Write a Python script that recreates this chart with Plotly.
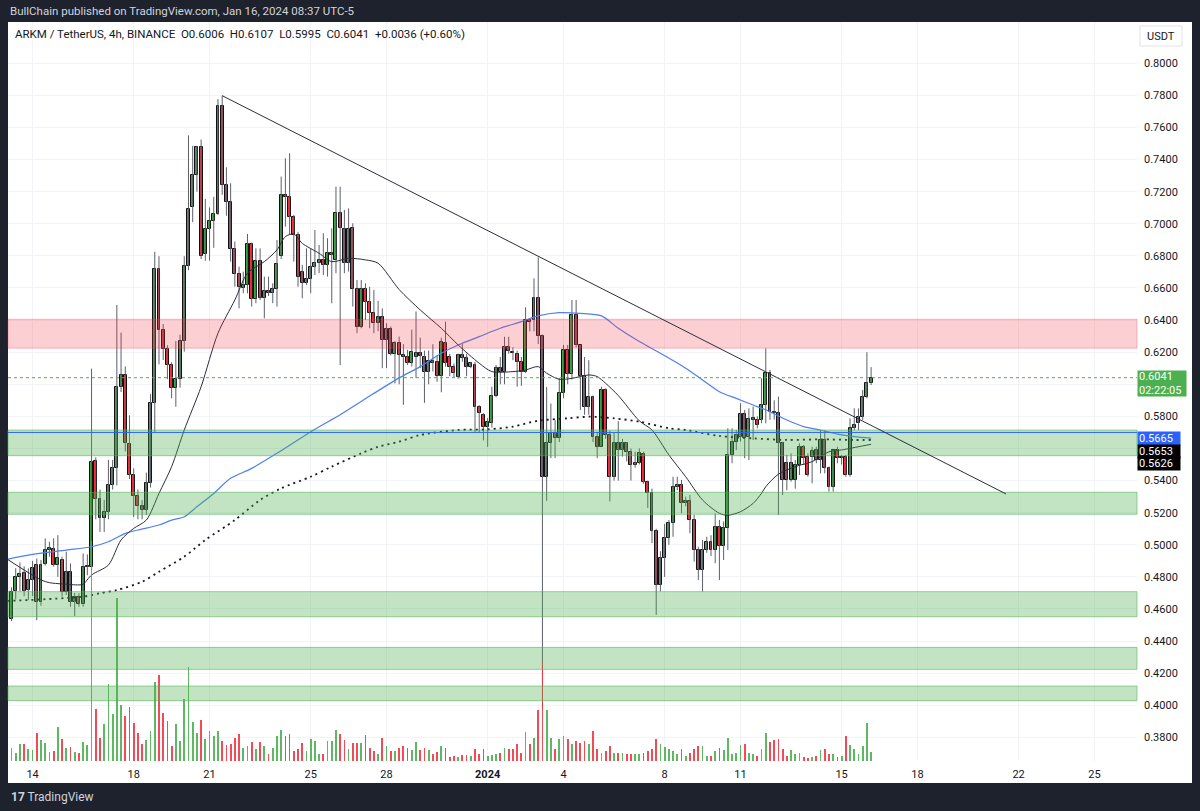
import pandas as pd
import plotly.graph_objects as go

# ---------------- data (ARKM/USDT 4h, Binance, local time UTC-5) ----------------
start = pd.Timestamp("2023-12-13 07:00")
step = pd.Timedelta(hours=4)

opens = [.4535,.4710,.4801,.4822,.4718,.4780,.4872,.4646,.4880,.4970,
         .4974,.4874,.4905,.4708,.4832,.4646,.4677,.4631,.4860,.4864,
         .5524,.5283,.5167,.5204,.5370,.5476,.5984,.6058,.5630,.5434,
         .5305,.5244,.5217,.5384,.5881,.6719,.6341,.6222,.6119,.5979,
         .6032,.6269,.6737,.7102,.7306,.7480,.6811,.6970,.7015,.7062,
         .7736,.7242,.7134,.6841,.6687,.6598,.6619,.6874,.6532,.6768,
         .6536,.6584,.6567,.6594,.6800,.7180,.7169,.7044,.6930,.6700,
         .6629,.6656,.6733,.6758,.6775,.6744,.6806,.6775,.7065,.6966,
         .6754,.6972,.6592,.6359,.6592,.6515,.6442,.6381,.6417,.6276,
         .6345,.6189,.6255,.6183,.6172,.6131,.6172,.6193,.6172,.6079,
         .6147,.6141,.6050,.6260,.6172,.6110,.6048,.6183,.6162,.6110,
         .6120,.5861,.5809,.5736,.5757,.5929,.6100,.6079,.6235,.6203,
         .6189,.6137,.6079,.6400,.6400,.6536,.6301,.5425,.5636,.5699,
         .5665,.5946,.6214,.6064,.6431,.6245,.6052,.5861,.5923,.5674,
         .5612,.5965,.5684,.5425,.5632,.5591,.5632,.5580,.5497,.5508,
         .5566,.5394,.5322,.5083,.4750,.4916,.5040,.5137,.5362,.5373,
         .5259,.5270,.5155,.4968,.4843,.4968,.5020,.4968,.5113,.4990,
         .5102,.5559,.5642,.5674,.5815,.5674,.5778,.5778,.5778,.5871,
         .6068,.5829,.5819,.5632,.5508,.5404,.5404,.5497,.5611,.5549,
         .5549,.5591,.5528,.5653,.5476,.5362,.5591,.5539,.5549,.5435,
         .5726,.5757,.5794,.5923,.6006]

highs = [.4735,.4854,.4890,.4866,.4853,.4900,.4915,.4905,.5040,.5019,
         .5040,.5060,.4926,.4957,.4884,.4700,.4698,.4946,.4940,.6097,
         .5545,.5344,.5280,.5529,.5529,.6494,.6322,.6111,.5807,.5476,
         .5344,.5278,.5450,.5939,.6825,.6798,.6375,.6243,.6137,.6269,
         .6309,.6798,.7551,.7485,.7485,.7525,.7155,.7102,.7168,.7776,
         .7798,.7352,.7252,.6889,.6733,.6702,.6937,.6883,.6847,.6847,
         .6671,.6671,.6629,.6899,.7294,.7408,.7439,.7055,.6950,.6744,
         .6847,.6847,.6961,.6868,.6941,.6910,.6972,.7231,.7231,.7086,
         .7096,.7003,.6650,.6650,.6629,.6608,.6588,.6519,.6473,.6380,
         .6360,.6270,.6297,.6250,.6215,.6340,.6454,.6290,.6210,.6210,
         .6250,.6180,.6290,.6390,.6190,.6130,.6190,.6250,.6190,.6140,
         .6140,.5870,.5820,.5790,.5985,.6120,.6170,.6296,.6296,.6230,
         .6210,.6170,.6480,.6410,.6660,.6791,.6310,.5984,.5880,.5777,
         .6040,.6245,.6245,.6525,.6525,.6245,.6170,.6150,.5930,.5700,
         .5985,.5975,.5710,.5700,.5770,.5660,.5640,.5600,.5580,.5600,
         .5580,.5400,.5350,.5100,.4960,.5130,.5155,.5424,.5424,.5404,
         .5300,.5310,.5186,.4988,.5030,.5050,.5060,.5196,.5155,.5145,
         .5726,.5726,.5715,.5882,.5840,.5850,.5861,.5800,.6037,.6224,
         .6089,.5900,.5923,.5642,.5560,.5570,.5528,.5632,.5622,.5570,
         .5611,.5611,.5715,.5715,.5487,.5591,.5611,.5560,.5560,.5788,
         .5850,.5850,.5965,.6200,.6107]

lows = [.4525,.4660,.4710,.4680,.4656,.4680,.4531,.4620,.4870,.4926,
        .4864,.4800,.4677,.4687,.4614,.4556,.4614,.4614,.4810,.4840,
        .5159,.5080,.5080,.5159,.5344,.5370,.5952,.5582,.5410,.5172,
        .5159,.5159,.5185,.5357,.5701,.6124,.6151,.6032,.5913,.5860,
        .5979,.6203,.6711,.7010,.7200,.6780,.6770,.6770,.6850,.7055,
        .7180,.7050,.6764,.6608,.6473,.6567,.6567,.6484,.6505,.6525,
        .6411,.6550,.6505,.6484,.6780,.6982,.6930,.6764,.6608,.6536,
        .6619,.6567,.6681,.6692,.6681,.6671,.6505,.6692,.6120,.6692,
        .6702,.6484,.6318,.6349,.6401,.6349,.6318,.6331,.6100,.6100,
        .6180,.6005,.6000,.5872,.6120,.6110,.6040,.6100,.5884,.6000,
        .6080,.6016,.5950,.6110,.6050,.6040,.6035,.6140,.6050,.6100,
        .5700,.5700,.5650,.5610,.5730,.5920,.6000,.6000,.6190,.6150,
        .5985,.5990,.6070,.6330,.6330,.6250,.3980,.5274,.5540,.5540,
        .5640,.5913,.6000,.6030,.6230,.5840,.5810,.5810,.5640,.5540,
        .5612,.5660,.5270,.5400,.5400,.5550,.5520,.5400,.5480,.5500,
        .5380,.5230,.5010,.4563,.4710,.4800,.5000,.5050,.5340,.5196,
        .5240,.5072,.4895,.4780,.4708,.4950,.4930,.4885,.4780,.4905,
        .4968,.5508,.5590,.5643,.5539,.5528,.5653,.5725,.5757,.5757,
        .5778,.5780,.5186,.5310,.5340,.5393,.5350,.5435,.5497,.5424,
        .5383,.5508,.5445,.5445,.5331,.5331,.5508,.5500,.5424,.5424,
        .5715,.5715,.5778,.5913,.5995]

closes = [.4705,.4801,.4820,.4714,.4780,.4853,.4646,.4874,.4967,.4978,
          .4874,.4916,.4708,.4832,.4646,.4677,.4631,.4860,.4868,.5518,
          .5283,.5167,.5204,.5370,.5476,.5984,.6058,.5635,.5434,.5305,
          .5244,.5217,.5384,.5881,.6719,.6341,.6222,.6119,.5979,.6032,
          .6269,.6737,.7089,.7306,.7480,.6800,.6970,.7015,.7062,.7736,
          .7242,.7138,.6841,.6687,.6608,.6619,.6874,.6532,.6768,.6536,
          .6584,.6567,.6594,.6750,.7180,.7165,.7044,.6930,.6671,.6629,
          .6656,.6733,.6758,.6775,.6744,.6820,.6820,.7065,.6972,.6754,
          .6966,.6592,.6359,.6592,.6515,.6442,.6381,.6418,.6276,.6345,
          .6189,.6255,.6183,.6172,.6131,.6203,.6193,.6175,.6079,.6147,
          .6130,.6050,.6266,.6131,.6110,.6069,.6183,.6162,.6110,.6131,
          .5861,.5819,.5736,.5767,.5929,.6100,.6079,.6235,.6210,.6193,
          .6137,.6079,.6400,.6386,.6536,.6301,.5425,.5636,.5699,.5665,
          .5946,.6214,.6064,.6431,.6245,.6052,.5861,.5923,.5674,.5612,
          .5965,.5684,.5425,.5632,.5591,.5632,.5580,.5497,.5508,.5570,
          .5394,.5322,.5083,.4750,.4916,.5040,.5137,.5362,.5373,.5259,
          .5270,.5155,.4968,.4843,.4968,.5020,.4968,.5113,.4990,.5102,
          .5559,.5642,.5684,.5815,.5663,.5784,.5788,.5746,.5871,.6068,
          .5829,.5819,.5632,.5404,.5404,.5508,.5497,.5611,.5539,.5435,
          .5587,.5528,.5653,.5476,.5362,.5591,.5539,.5549,.5435,.5726,
          .5746,.5794,.5923,.6006,.6041]

volumes = [130,80,170,170,120,110,280,210,180,90,
           100,340,220,130,140,90,80,190,160,2200,
           520,230,370,770,470,1630,560,450,540,380,
           280,170,210,300,790,860,480,400,150,370,
           200,620,940,390,280,410,220,300,250,300,
           200,160,170,230,270,130,150,190,120,190,
           150,70,130,250,310,250,270,100,120,180,
           100,220,200,70,70,200,200,310,270,210,
           120,180,180,180,260,130,100,70,230,150,
           100,100,130,150,130,110,190,110,130,110,
           70,90,150,130,40,50,40,60,60,50,
           120,70,120,50,60,70,80,130,120,120,
           170,80,290,170,230,510,1000,510,230,120,
           220,250,220,170,200,180,200,170,300,120,
           80,100,150,80,80,80,70,70,70,70,
           80,100,120,220,170,140,120,100,70,120,
           50,80,120,150,150,50,50,100,130,110,
           230,70,80,160,170,80,70,50,120,280,
           190,210,220,120,50,110,70,80,40,30,
           40,50,110,120,70,70,40,50,250,160,
           120,70,150,380,90]

# moving averages (bar index, value)
ma_fast_bar = [-1,7,9,12,16,17,19,23,26,29,32,35,38,41,45,49,53,56,60,63,65,67,69,73,76,80,84,87,
               92,97,102,106,111,114,119,122,125,127,130,133,137,139,141,144,149,152,156,160,164,
               168,170,173,176,178,179,182,186,190,194,197,202,204]
ma_fast_val = [.4910,.4781,.4764,.4756,.4750,.4754,.4812,.4874,.5030,.5102,.5154,.5320,.5487,.5715,
               .5985,.6318,.6525,.6692,.6764,.6837,.6920,.6936,.6878,.6816,.6764,.6785,.6775,.6754,
               .6590,.6463,.6349,.6245,.6131,.6079,.6079,.6089,.6110,.6069,.6031,.6037,.6058,.6048,
               .6006,.5930,.5772,.5715,.5560,.5424,.5279,.5196,.5184,.5206,.5258,.5321,.5362,.5440,
               .5487,.5518,.5580,.5591,.5616,.5626]

ma_mid_bar = [-1,5,13,19,23,27,30,35,38,41,44,48,52,57,63,72,78,84,92,97,102,106,111,116,121,125,
              130,135,140,144,149,154,160,164,168,172,176,180,184,188,192,196,200,204]
ma_mid_val = [.4910,.4940,.4967,.4988,.5019,.5071,.5092,.5123,.5154,.5175,.5237,.5320,.5414,.5476,
              .5570,.5720,.5810,.5910,.6040,.6110,.6193,.6245,.6297,.6349,.6390,.6426,.6446,.6442,
              .6426,.6349,.6266,.6193,.6100,.6027,.5954,.5912,.5871,.5829,.5777,.5736,.5715,.5690,
              .5674,.5665]

ma_slow_bar = [-1,17,21,25,31,35,41,46,53,59,64,71,76,83,87,92,97,106,113,119,125,132,137,143,149,
               156,160,168,176,184,192,200,204]
ma_slow_val = [.4650,.4677,.4698,.4718,.4770,.4832,.4926,.5030,.5154,.5279,.5352,.5424,.5487,.5570,
               .5611,.5642,.5684,.5715,.5719,.5736,.5773,.5788,.5798,.5788,.5767,.5726,.5715,.5678,
               .5663,.5653,.5657,.5653,.5653]

# zones and drawings (prices)
resistance_zone = (0.6225, 0.6405)
support_zones = [(0.5555, 0.5715), (0.5190, 0.5327), (0.4552, 0.4708), (0.4224, 0.4361), (0.4029, 0.4120)]
blue_hline = 0.5700
trend_start = (50, 0.7798)   # (bar index, price)
trend_end = (236, 0.5317)
last_price = 0.6041

tick_labels = ["14", "18", "21", "25", "28", "<b>2024</b>", "4", "8", "11", "15", "18", "22", "25"]
tick_dates = ["2023-12-14 03:00", "2023-12-18 03:00", "2023-12-21 03:00", "2023-12-25 03:00",
              "2023-12-28 03:00", "2024-01-01 03:00", "2024-01-04 03:00", "2024-01-08 03:00",
              "2024-01-11 03:00", "2024-01-15 03:00", "2024-01-18 03:00", "2024-01-22 03:00",
              "2024-01-25 03:00"]
price_ticks = [0.38, 0.40, 0.42, 0.44, 0.46, 0.48, 0.50, 0.52, 0.54, 0.56, 0.58, 0.60,
               0.62, 0.64, 0.66, 0.68, 0.70, 0.72, 0.74, 0.76, 0.78, 0.80]
hidden_ticks = [0.56, 0.60]

# ---------------- figure ----------------
n = len(opens)
times = [start + i * step for i in range(n)]
def bar_time(b):
    return start + b * step

UP = "#43a047"
DN = "#ef2f3c"
FONT = "Roboto, Liberation Sans, sans-serif"

fig = go.Figure()

# volume
vol_colors = ["rgba(76,175,80,0.9)" if c >= o else "rgba(242,54,69,0.9)" for o, c in zip(opens, closes)]
fig.add_trace(go.Bar(x=times, y=volumes, yaxis="y2", marker=dict(color=vol_colors, line=dict(width=0)),
                     width=step.total_seconds() * 1000 * 0.42, hoverinfo="skip"))

# wicks
wx, wy = [], []
for t, h, l in zip(times, highs, lows):
    wx += [t, t, None]
    wy += [l, h, None]
fig.add_trace(go.Scatter(x=wx, y=wy, mode="lines", line=dict(color="#5d606b", width=1), hoverinfo="skip"))

# moving averages
fig.add_trace(go.Scatter(x=[bar_time(b) for b in ma_slow_bar], y=ma_slow_val, mode="lines",
                         line=dict(color="#131722", width=1.8, dash="2px,4px", shape="spline", smoothing=0.8),
                         hoverinfo="skip"))
fig.add_trace(go.Scatter(x=[bar_time(b) for b in ma_mid_bar], y=ma_mid_val, mode="lines",
                         line=dict(color="#4f7ff0", width=1.2, shape="spline", smoothing=0.8),
                         hoverinfo="skip"))
fig.add_trace(go.Scatter(x=[bar_time(b) for b in ma_fast_bar], y=ma_fast_val, mode="lines",
                         line=dict(color="#2a2e39", width=1, shape="spline", smoothing=0.8),
                         hoverinfo="skip"))

# candle bodies
body_base = [min(o, c) for o, c in zip(opens, closes)]
body_h = [max(abs(c - o), 0.0006) for o, c in zip(opens, closes)]
body_col = [UP if c >= o else DN for o, c in zip(opens, closes)]
fig.add_trace(go.Bar(x=times, y=body_h, base=body_base,
                     marker=dict(color=body_col, line=dict(color="#111111", width=1)),
                     width=step.total_seconds() * 1000 * 0.7, hoverinfo="skip"))

# ---------------- geometry helpers (paper coords) ----------------
L, R, T, B = 8, 63, 22, 50
PW, PH = 1200 - L - R, 811 - T - B
def px(x):
    return (x - L) / PW
def py(y):
    return (811 - B - y) / PH

shapes = []
# white chart frame
shapes.append(dict(type="rect", xref="paper", yref="paper", x0=px(8), x1=px(1192), y0=py(783), y1=py(22),
                   fillcolor="white", line=dict(width=0), layer="below"))
# resistance
shapes.append(dict(type="rect", xref="paper", yref="y", x0=0, x1=1, y0=resistance_zone[0], y1=resistance_zone[1],
                   fillcolor="rgba(242,54,69,0.24)", line=dict(color="rgba(242,54,69,0.30)", width=1), layer="above"))
for lo, hi in support_zones:
    shapes.append(dict(type="rect", xref="paper", yref="y", x0=0, x1=1, y0=lo, y1=hi,
                       fillcolor="rgba(76,175,80,0.34)", line=dict(color="rgba(76,175,80,0.55)", width=1),
                       layer="above"))
shapes.append(dict(type="line", xref="paper", yref="y", x0=0, x1=1, y0=blue_hline, y1=blue_hline,
                   line=dict(color="#2962ff", width=1), layer="above"))
shapes.append(dict(type="line", xref="x", yref="y", x0=bar_time(trend_start[0]), y0=trend_start[1],
                   x1=bar_time(trend_end[0]), y1=trend_end[1], line=dict(color="#2a2e39", width=1), layer="above"))
shapes.append(dict(type="line", xref="paper", yref="y", x0=0, x1=1, y0=last_price, y1=last_price,
                   line=dict(color="#4caf50", width=1, dash="dot"), layer="above"))
# USDT box
shapes.append(dict(type="rect", xref="paper", yref="paper", x0=px(1140), x1=px(1182), y0=py(46), y1=py(26),
                   fillcolor="white", line=dict(color="#e0e3eb", width=1)))

annotations = [
    dict(text="BullChain published on TradingView.com, Jan 16, 2024 08:37 UTC-5", xref="paper", yref="paper",
         x=px(8), y=py(11), xanchor="left", yanchor="middle", showarrow=False,
         font=dict(family=FONT, size=11.5, color="#d1d4dc")),
    dict(text="ARKM / TetherUS, 4h, BINANCE&nbsp;&nbsp;O0.6006&nbsp;&nbsp;H0.6107&nbsp;&nbsp;L0.5995&nbsp;&nbsp;C0.6041&nbsp;&nbsp;+0.0036 (+0.60%)",
         xref="paper", yref="paper", x=px(13), y=py(34), xanchor="left", yanchor="middle", showarrow=False,
         font=dict(family=FONT, size=11.5, color="#131722")),
    dict(text="USDT", xref="paper", yref="paper", x=px(1161), y=py(36), xanchor="center", yanchor="middle",
         showarrow=False, font=dict(family=FONT, size=11, color="#131722")),
    dict(text="0.6041<br>02:22:05", xref="paper", yref="paper", x=px(1137), y=py(383), xanchor="left",
         yanchor="middle", showarrow=False, align="left", bgcolor="#4caf50", width=46, height=23, borderpad=1,
         font=dict(family=FONT, size=11, color="white")),
    dict(text="0.5665", xref="paper", yref="paper", x=px(1137), y=py(438), xanchor="left", yanchor="middle",
         showarrow=False, align="left", bgcolor="#2962ff", width=40, height=11, borderpad=1,
         font=dict(family=FONT, size=11, color="white")),
    dict(text="0.5653", xref="paper", yref="paper", x=px(1137), y=py(451), xanchor="left", yanchor="middle",
         showarrow=False, align="left", bgcolor="#000000", width=40, height=11, borderpad=1,
         font=dict(family=FONT, size=11, color="white")),
    dict(text="0.5626", xref="paper", yref="paper", x=px(1137), y=py(464), xanchor="left", yanchor="middle",
         showarrow=False, align="left", bgcolor="#000000", width=40, height=11, borderpad=1,
         font=dict(family=FONT, size=11, color="white")),
    dict(text="<b>17</b> TradingView", xref="paper", yref="paper", x=px(9), y=py(797), xanchor="left",
         yanchor="middle", showarrow=False, font=dict(family=FONT, size=12, color="#d1d4dc")),
]

tick_text = ["" if any(abs(p - h) < 1e-9 for h in hidden_ticks) else f"{p:.4f}" for p in price_ticks]

fig.update_layout(
    width=1200, height=811,
    margin=dict(l=L, r=R, t=T, b=B),
    paper_bgcolor="#1e222d", plot_bgcolor="white",
    showlegend=False, barmode="overlay", bargap=0,
    shapes=shapes, annotations=annotations,
    font=dict(family=FONT, size=11, color="#131722"),
    xaxis=dict(type="date", range=[start - 0.83 * step, start + 267.1 * step],
               tickvals=tick_dates, ticktext=tick_labels, showgrid=True, gridcolor="#f2f3f6",
               zeroline=False, showline=False, ticks="", ticklabelstandoff=5,
               tickfont=dict(family=FONT, size=11, color="#131722"), fixedrange=True),
    yaxis=dict(side="right", range=[0.3653, 0.8257], tickvals=price_ticks, ticktext=tick_text,
               showgrid=True, gridcolor="#f2f3f6", zeroline=False, showline=False, ticks="",
               ticklabelstandoff=6, tickfont=dict(family=FONT, size=11, color="#131722"), fixedrange=True),
    yaxis2=dict(overlaying="y", range=[0, 7390], visible=False, fixedrange=True),
)

fig.write_html("out.html")
